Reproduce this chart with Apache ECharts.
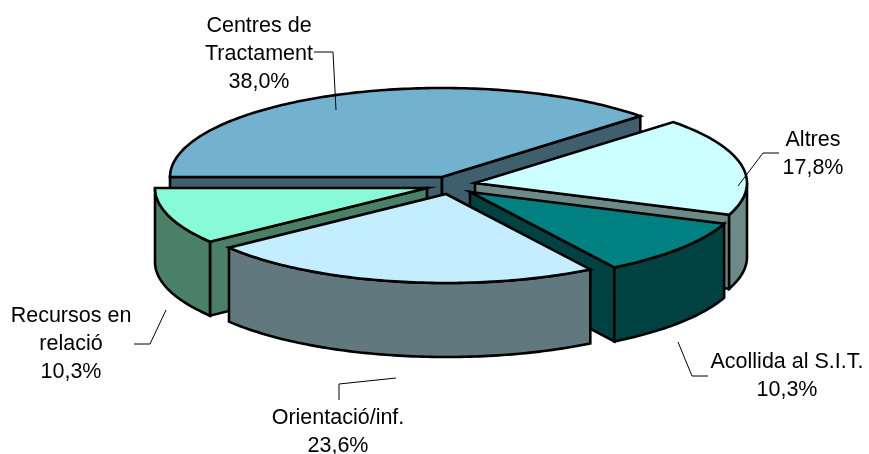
<!DOCTYPE html>
<html><head><meta charset="utf-8">
<style>html,body{margin:0;padding:0;background:#fff}#c{width:869px;height:454px}</style>
<script src="https://cdn.jsdelivr.net/npm/echarts@6/dist/echarts.min.js"></script>
</head><body><div id="c"></div>
<script>
const categories = ['Centres de\nTractament', 'Altres', 'Acollida al S.I.T.', 'Orientació/inf.', 'Recursos en\nrelació'];
const shares = [38.0, 17.8, 10.3, 23.6, 10.3];
const topColors = ['#73B2CE', '#CCFFFF', '#008080', '#C4EEFF', '#88FBD6'];
const sideColors = ['#3F5F6F', '#6C8A88', '#004141', '#62787F', '#4A8067'];
const apexes = [[442,177],[475,183],[470,192],[446,194],[427,188]];
const labelAnchors = [[259,54],[813,154],[787,376],[338,432],[71,344]];
const leaders = [
  [[314,52],[333,52],[336,110]],
  [[738,186],[763,153],[779,153]],
  [[678,342],[692,376],[708,376]],
  [[396,378],[339,384],[339,400]],
  [[166,310],[150,344],[134,344]]
];
const drawOrder = [0,1,2,4,3];
const RX = 272, RY = 89, DEPTH = 74, START = 180;

const starts = [];
shares.reduce((a, v, i) => { starts[i] = a; return a - v * 3.6; }, START);
const fmt = v => v.toFixed(1).replace('.', ',') + '%';

function pt(c, deg, dz) {
  const r = deg * Math.PI / 180;
  return [c[0] + RX * Math.cos(r), c[1] - RY * Math.sin(r) + (dz || 0)];
}
function arc(c, a, b, dz) {
  const n = Math.max(2, Math.ceil(Math.abs(a - b))), out = [];
  for (let i = 0; i <= n; i++) out.push(pt(c, a + (b - a) * i / n, dz));
  return out;
}
const edge = { stroke: '#000', lineWidth: 2.6, lineJoin: 'miter' };
function poly(points, fill) {
  return { type: 'polygon', shape: { points }, style: Object.assign({ fill }, edge) };
}
function slice(i) {
  const c = apexes[i], a = starts[i], b = a - shares[i] * 3.6;
  const kids = [];
  const side = sideColors[i];
  const radial = ang => {
    const p = pt(c, ang);
    return poly([c, p, [p[0], p[1] + DEPTH], [c[0], c[1] + DEPTH]], side);
  };
  if (i === 0) kids.push(radial(a), radial(b));
  if (i === 1 || i === 2) kids.push(radial(b));
  if (i === 4) kids.push(radial(a));
  const wa = Math.min(a, 0), wb = Math.max(b, -180);
  if (wa > wb) {
    kids.push(poly(arc(c, wa, wb, 0).concat(arc(c, wb, wa, DEPTH)), side));
  }
  kids.push(poly([c].concat(arc(c, a, b, 0)), topColors[i]));
  return { type: 'group', children: kids };
}
const chart = echarts.init(document.getElementById('c'), null, { renderer: 'canvas' });
chart.setOption({
  backgroundColor: '#fff',
  animation: false,
  xAxis: { show: false }, yAxis: { show: false },
  series: [{
    type: 'custom', coordinateSystem: 'none', silent: true,
    data: drawOrder,
    renderItem: (p, api) => slice(api.value(0))
  }, {
    type: 'custom', coordinateSystem: 'none', silent: true,
    data: drawOrder,
    renderItem: (p, api) => {
      const i = api.value(0), a = labelAnchors[i];
      return { type: 'group', children: [
        { type: 'polyline', shape: { points: leaders[i] }, style: { stroke: '#000', lineWidth: 1, fill: null } },
        { type: 'text', x: a[0], y: a[1], style: {
          text: categories[i] + '\n' + fmt(shares[i]),
          fontFamily: '"Liberation Sans"', fontSize: 21.5, lineHeight: 28,
          fill: '#000', align: 'center', verticalAlign: 'middle' } }
      ]};
    }
  }]
});
</script></body></html>
